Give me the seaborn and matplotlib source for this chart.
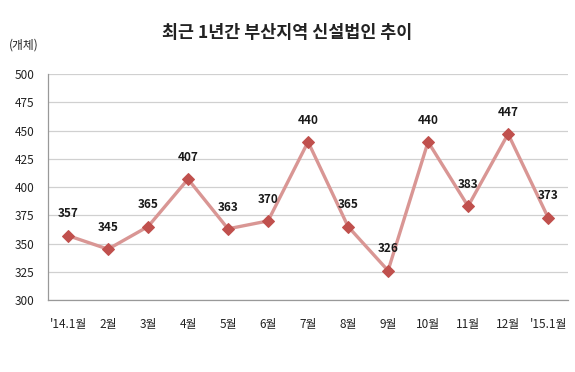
import matplotlib
matplotlib.use("Agg")
import matplotlib.pyplot as plt
import seaborn as sns
import pandas as pd
from matplotlib.ticker import FixedLocator

months = ["'14.1월", "2월", "3월", "4월", "5월", "6월", "7월", "8월", "9월", "10월", "11월", "12월", "'15.1월"]
counts = [357, 345, 365, 407, 363, 370, 440, 365, 326, 440, 383, 447, 373]
y_ticks = [300, 325, 350, 375, 400, 425, 450, 475, 500]

sns.set_theme(style="white")
plt.rcParams['font.family'] = ['Noto Sans CJK KR', 'DejaVu Sans']

df = pd.DataFrame({"month": months, "count": counts})

fig = plt.figure(figsize=(5.75, 3.72), dpi=100)
ax = fig.add_axes([0.0835, 0.1935, 0.9045, 0.6075])

sns.lineplot(data=df, x="month", y="count", ax=ax, sort=False,
             color="#D99694", linewidth=2.4, marker="D", markersize=6.5,
             markerfacecolor="#C0504D", markeredgecolor="#C0504D", zorder=3)

for i, v in enumerate(counts):
    ax.annotate(str(v), (i, v), xytext=(0, 11), textcoords="offset points",
                ha="center", va="bottom", fontsize=8.5, fontweight="bold", color="#1a1a1a")

ax.set_ylim(300, 500)
ax.set_xlim(-0.5, len(months) - 0.5)
ax.set_yticks(y_ticks)
ax.set_yticklabels([str(t) for t in y_ticks], fontsize=8.5, color="#222222")
ax.set_xticks(range(len(months)))
ax.set_xticklabels(months, fontsize=8.5, color="#222222")
ax.xaxis.set_minor_locator(FixedLocator([i + 0.5 for i in range(-1, len(months))]))
ax.tick_params(axis="x", which="major", length=0, pad=13)
ax.tick_params(axis="x", which="minor", length=4, direction="in", color="#888888", width=0.8)
ax.tick_params(axis="y", length=0, pad=10)
ax.set_xlabel("")
ax.set_ylabel("")

ax.grid(axis="y", color="#D0D0D0", linewidth=0.9)
ax.set_axisbelow(True)
for s in ["top", "right"]:
    ax.spines[s].set_visible(False)
for s in ["left", "bottom"]:
    ax.spines[s].set_color("#999999")
    ax.spines[s].set_linewidth(0.9)

fig.text(0.5, 0.91, "최근 1년간 부산지역 신설법인 추이", ha="center", va="center",
         fontsize=12.5, fontweight="bold", color="#222222")
fig.text(0.015, 0.878, "(개체)", ha="left", va="center", fontsize=8.5, color="#222222")

fig.savefig("out.png", dpi=100)
